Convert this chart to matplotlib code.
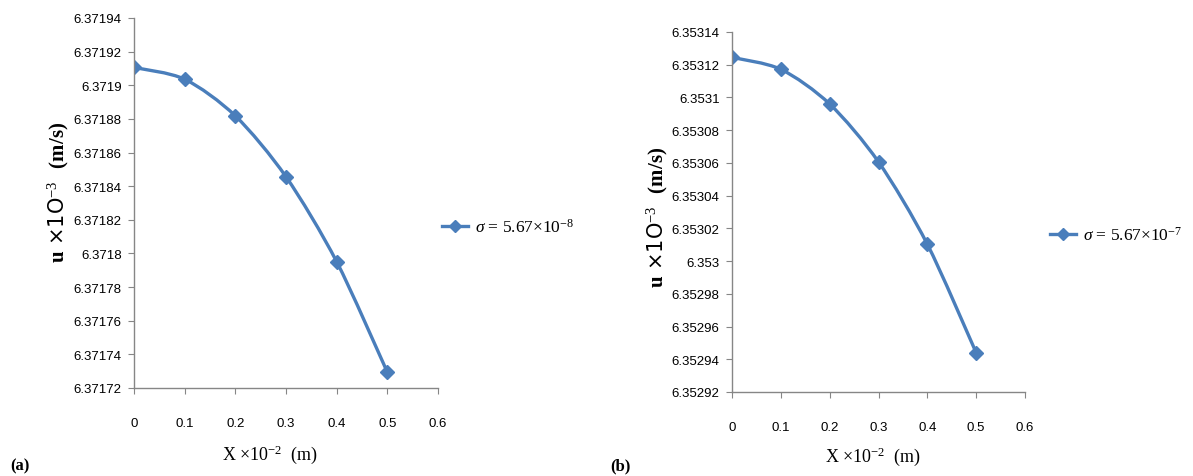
import matplotlib
matplotlib.use("Agg")
import matplotlib.pyplot as plt
from matplotlib.path import Path
from matplotlib.patches import PathPatch
from matplotlib.lines import Line2D
from matplotlib.ticker import FuncFormatter, MultipleLocator

plt.rcParams['mathtext.fontset'] = 'custom'
plt.rcParams['mathtext.rm'] = 'Liberation Serif'
plt.rcParams['mathtext.it'] = 'Liberation Serif:italic'
plt.rcParams['mathtext.bf'] = 'Liberation Serif:bold'

x = [0, 0.1, 0.2, 0.3, 0.4, 0.5]
u_a = [6.3719106, 6.3719036, 6.3718818, 6.3718456, 6.3717951, 6.3717294]
u_b = [6.3531245, 6.3531172, 6.3530960, 6.3530606, 6.3530103, 6.3529440]
lab_a = r'$\it{\sigma}$ = 5.67×10$^{-8}$'
lab_b = r'$\it{\sigma}$ = 5.67×10$^{-7}$'

BLUE = '#4a7ebb'
GREY = '#868686'
W, H = 1193, 477


def smooth_path(xs, ys):
    # excel-like smoothed line: cubic bezier segments through the points
    pts = list(zip(xs, ys))
    n = len(pts)
    verts = [pts[0]]
    codes = [Path.MOVETO]
    k = 1 / 7
    for i in range(n - 1):
        p0 = pts[max(i - 1, 0)]
        p1 = pts[i]
        p2 = pts[i + 1]
        p3 = pts[min(i + 2, n - 1)]
        c1 = (p1[0] + (p2[0] - p0[0]) * k, p1[1] + (p2[1] - p0[1]) * k)
        c2 = (p2[0] - (p3[0] - p1[0]) * k, p2[1] - (p3[1] - p1[1]) * k)
        verts += [c1, c2, p2]
        codes += [Path.CURVE4] * 3
    return Path(verts, codes)


def fmt(v, pos):
    return ('%.5f' % v).rstrip('0').rstrip('.')


def panel(ax, ys, ylo, yhi, label):
    ax.add_patch(PathPatch(smooth_path(x, ys), fill=False, ec=BLUE, lw=2.4,
                           capstyle='round', joinstyle='round'))
    ax.plot(x, ys, ls='none', marker='D', ms=7, color=BLUE, label=label)
    ax.set_xlim(0, 0.6)
    ax.set_ylim(ylo, yhi)
    ax.xaxis.set_major_locator(MultipleLocator(0.1))
    ax.yaxis.set_major_locator(MultipleLocator(0.00002))
    ax.yaxis.set_major_formatter(FuncFormatter(fmt))
    ax.xaxis.set_major_formatter(FuncFormatter(lambda v, p: '0' if v == 0 else '%.1f' % v))
    for s in ['top', 'right']:
        ax.spines[s].set_visible(False)
    for s in ['left', 'bottom']:
        ax.spines[s].set_color(GREY)
        ax.spines[s].set_linewidth(1.0)
    ax.tick_params(axis='y', direction='out', length=4, color=GREY, pad=5,
                   labelsize=9.5)
    ax.tick_params(axis='x', direction='out', length=4, color=GREY, pad=17,
                   labelsize=9.5)
    for t in ax.get_xticklabels() + ax.get_yticklabels():
        t.set_family(['Liberation Sans Narrow', 'Liberation Sans'])


fig = plt.figure(figsize=(W / 100, H / 100), dpi=100)
ax1 = fig.add_axes([134 / W, 1 - 389 / H, 304 / W, 370 / H])
ax2 = fig.add_axes([732 / W, 1 - 393 / H, 293 / W, 360 / H])

panel(ax1, u_a, 6.37172, 6.37194, lab_a)
panel(ax2, u_b, 6.35292, 6.35314, lab_b)

# axis titles
xlab = r'X ×10$^{-2}$  (m)'
ylab = r'$\mathbf{u}$ ×1O$^{-3}$  $\mathbf{(m/s)}$'
for xc, yc in [(270, 455), (873, 457)]:
    fig.text(xc / W, 1 - yc / H, xlab, family='Liberation Serif', fontsize=13,
             ha='center', va='center')
for xc, yc in [(58, 192), (657, 217)]:
    fig.text(xc / W, 1 - yc / H, ylab, family='DejaVu Sans', fontsize=15,
             ha='center', va='center', rotation=90)

# legends
for ax, pos in [(ax1, (442 / W, 1 - 228 / H)), (ax2, (1050 / W, 1 - 236 / H))]:
    h, l = ax.get_legend_handles_labels()
    hd = Line2D([], [], color=BLUE, lw=2.4, marker='D', ms=6.5)
    fig.legend([hd], l, loc='center left', bbox_to_anchor=pos, frameon=False,
               handlelength=1.5, handletextpad=0.4, borderpad=0, borderaxespad=0,
               prop={'family': 'Liberation Serif', 'size': 12.5})

fig.text(10 / W, 1 - 466 / H, '(a)', family='Liberation Serif', weight='bold',
         fontsize=12, va='center')
fig.text(610 / W, 1 - 466 / H, '(b)', family='Liberation Serif', weight='bold',
         fontsize=12, va='center')

fig.savefig('out.png', dpi=100)
